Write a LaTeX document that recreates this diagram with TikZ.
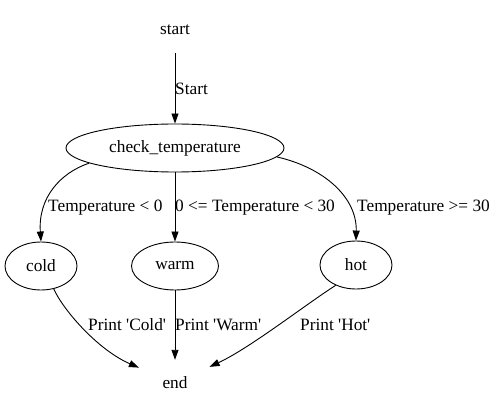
\documentclass[tikz,border=0pt]{standalone}
\usepackage{fontspec}
\newfontfamily\gv{Liberation Serif}
\usetikzlibrary{arrows.meta,shapes.geometric}
\begin{document}
\begin{tikzpicture}[x=1pt,y=1pt,
  every node/.style={font=\gv\fontsize{17.3}{20}\selectfont},
  state/.style={ellipse,draw,line width=0.9pt,inner sep=0pt,minimum height=48pt},
  plain/.style={ellipse,inner sep=0pt,minimum width=96pt,minimum height=46pt},
  lbl/.style={anchor=west,inner sep=0pt},
  edge/.style={line width=0.9pt,-{Triangle[length=10pt,width=7pt]}}]
\useasboundingbox (0,0) rectangle (504,413);
\node[plain] (start) at (175,383) {start};
\node[state,minimum width=218pt] (check) at (175,265) {check\_temperature};
\node[state,minimum width=72pt] (cold) at (41,147) {cold};
\node[state,minimum width=87pt] (warm) at (175,147) {warm};
\node[state,minimum width=72pt] (hot) at (356,148) {hot};
\node[plain] (end) at (175,30) {end};
\draw[edge] (start) -- (check.north);
\draw[edge] (check.190) .. controls (60,240) and (38,215) .. (cold.north);
\draw[edge] (check.south) -- (warm.north);
\draw[edge] (check.-5) .. controls (325,245) and (357,215) .. (hot.north);
\draw[edge] (cold.-61) .. controls (65,100) and (100,62) .. (end);
\draw[edge] (warm.south) -- (end);
\draw[edge] (hot.-135) .. controls (305,108) and (250,65) .. (end);
\node[lbl] (l0) at (175,324) {Start};
\node[lbl] (l1) at (48,205) {Temperature < 0};
\node[lbl] (l2) at (175,205) {0 <= Temperature < 30};
\node[lbl] (l3) at (357,205) {Temperature >= 30};
\node[lbl] (l4) at (88,88) {Print 'Cold'};
\node[lbl] (l5) at (175,88) {Print 'Warm'};
\node[lbl] (l6) at (300,88) {Print 'Hot'};
\end{tikzpicture}
\end{document}
